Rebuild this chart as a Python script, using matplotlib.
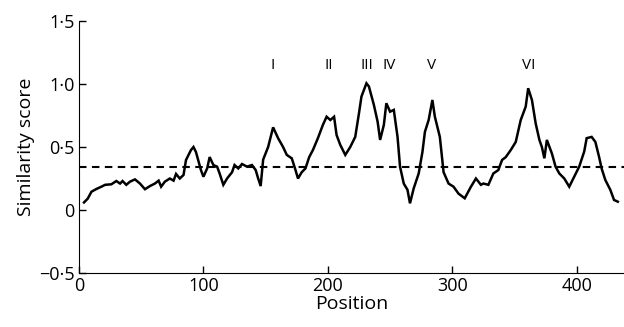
import numpy as np
import matplotlib
matplotlib.use("Agg")
import matplotlib.pyplot as plt

plt.rcParams['font.family'] = ['Open Sans', 'DejaVu Sans']

# traced similarity profile
posicion = [4, 7, 10, 14, 18, 21, 26, 30, 33, 35, 38, 41, 45, 49, 53, 57, 61, 64, 66, 69,
            73, 76, 78, 81, 84, 86, 90, 92, 94, 98, 100, 103, 105, 108, 111, 113, 116, 119,
            123, 125, 128, 131, 135, 139, 142, 144, 146, 148, 152, 156, 160, 164, 167, 171,
            174, 176, 179, 182, 185, 188, 192, 196, 199, 202, 205, 207, 210, 214, 218, 222,
            225, 227, 231, 233, 237, 240, 242, 245, 247, 250, 253, 256, 258, 261, 264, 266,
            269, 273, 276, 278, 281, 284, 286, 290, 293, 297, 301, 305, 310, 315, 319, 323,
            325, 329, 333, 337, 340, 343, 347, 351, 355, 359, 361, 364, 367, 370, 372, 374,
            376, 380, 383, 386, 390, 394, 398, 402, 406, 408, 412, 415, 418, 420, 423, 427,
            430, 433]
score = [0.06, 0.09, 0.145, 0.167, 0.185, 0.20, 0.204, 0.23, 0.21, 0.23, 0.20, 0.225, 0.243,
         0.21, 0.165, 0.19, 0.21, 0.233, 0.185, 0.225, 0.25, 0.233, 0.286, 0.25, 0.278, 0.397,
         0.476, 0.50, 0.46, 0.317, 0.264, 0.33, 0.42, 0.357, 0.344, 0.29, 0.20, 0.25, 0.30,
         0.357, 0.33, 0.365, 0.344, 0.357, 0.317, 0.25, 0.19, 0.40, 0.50, 0.656, 0.57, 0.50,
         0.437, 0.41, 0.317, 0.25, 0.30, 0.33, 0.42, 0.476, 0.57, 0.675, 0.74, 0.714, 0.74,
         0.595, 0.516, 0.437, 0.50, 0.58, 0.767, 0.90, 1.005, 0.98, 0.833, 0.70, 0.556, 0.675,
         0.847, 0.78, 0.794, 0.58, 0.344, 0.21, 0.16, 0.053, 0.172, 0.29, 0.46, 0.62, 0.714,
         0.873, 0.74, 0.58, 0.30, 0.21, 0.185, 0.13, 0.093, 0.185, 0.25, 0.20, 0.21, 0.20,
         0.29, 0.317, 0.397, 0.42, 0.476, 0.54, 0.714, 0.82, 0.966, 0.873, 0.688, 0.556, 0.50,
         0.41, 0.556, 0.45, 0.344, 0.29, 0.25, 0.185, 0.264, 0.344, 0.463, 0.57, 0.58, 0.54,
         0.42, 0.33, 0.238, 0.16, 0.08, 0.066]
umbral = 0.34

regiones = ["I", "II", "III", "IV", "V", "VI"]
pos_regiones = [156, 200.5, 231, 249.5, 283.5, 361.5]
altura_regiones = 1.15

yticks = [-0.5, 0, 0.5, 1.0, 1.5]
ytick_labels = ["\u22120\u00b75", "0", "0\u00b75", "1\u00b70", "1\u00b75"]
xticks = [0, 100, 200, 300, 400]

fig = plt.figure(figsize=(6.24, 3.27), dpi=100)
ax = fig.add_axes([0.1266, 0.165, 0.8734, 0.771])

ax.plot(posicion, score, color="black", lw=1.8, solid_joinstyle="miter")
ax.axhline(umbral, color="black", lw=1.5, dashes=(3.6, 2.6))

for nombre, x in zip(regiones, pos_regiones):
    ax.text(x, altura_regiones, nombre, ha="center", va="center", fontsize=11)

ax.set_xlim(0, 438)
ax.set_ylim(-0.5, 1.5)
ax.set_xticks(xticks)
ax.set_yticks(yticks)
ax.set_yticklabels(ytick_labels)
ax.tick_params(direction="in", length=5, width=1, labelsize=13, pad=3)
ax.spines["top"].set_visible(False)
ax.spines["right"].set_visible(False)
ax.set_xlabel("Position", fontsize=14, labelpad=0)
ax.set_ylabel("Similarity score", fontsize=14, labelpad=3)

fig.savefig("out.png", dpi=100)
